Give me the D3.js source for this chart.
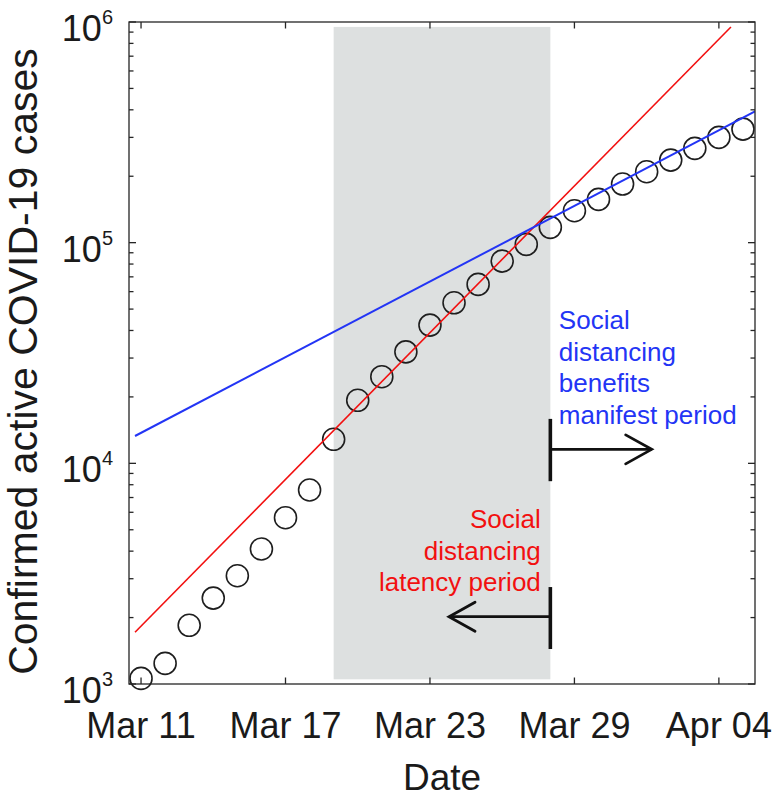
<!DOCTYPE html>
<html>
<head>
<meta charset="utf-8">
<script src="https://cdn.jsdelivr.net/npm/d3@7"></script>
<style>
  html, body { margin: 0; padding: 0; background: #fff; }
  svg { display: block; }
  text { font-family: "Liberation Sans", Arial, Helvetica, sans-serif; }
</style>
</head>
<body>
<svg id="chart" width="776" height="797"></svg>
<script>
// ---------- data ----------
const dates = ["2020-03-11","2020-03-12","2020-03-13","2020-03-14","2020-03-15","2020-03-16",
  "2020-03-17","2020-03-18","2020-03-19","2020-03-20","2020-03-21","2020-03-22","2020-03-23",
  "2020-03-24","2020-03-25","2020-03-26","2020-03-27","2020-03-28","2020-03-29","2020-03-30",
  "2020-03-31","2020-04-01","2020-04-02","2020-04-03","2020-04-04","2020-04-05"];
const cases = [1060, 1240, 1845, 2450, 3095, 4090, 5670, 7570, 12850, 19300, 24700, 32000, 42300,
  53400, 64700, 82500, 98200, 117300, 139500, 157100, 184300, 209600, 236700, 267500, 300000, 327100];

// exponential fits (endpoints)
const redFitDates = ["2020-03-10T18:00", "2020-04-04T12:00"];
const redFitValues = [1716, 949000];
const blueFitDates = ["2020-03-10T18:00", "2020-04-05T12:00"];
const blueFitValues = [13300, 394000];

// shaded latency window
const shadeDates = ["2020-03-19", "2020-03-28"];
const shadeValues = [1050, 950000];

// axis ticks
const xTickDates = ["2020-03-11","2020-03-17","2020-03-23","2020-03-29","2020-04-04"];
const xTickLabels = ["Mar 11","Mar 17","Mar 23","Mar 29","Apr 04"];
const yTickValues = [1e3, 1e4, 1e5, 1e6];
const yTickExponents = ["3","4","5","6"];
const xDomain = ["2020-03-10T12:00", "2020-04-05T12:00"];
const yDomain = [1e3, 1e6];

// annotations
const blueText = ["Social", "distancing", "benefits", "manifest period"];
const blueTextAnchor = { date: "2020-03-28T08:30", value: 40600 };
const redText = ["Social", "distancing", "latency period"];
const redTextAnchor = { date: "2020-03-27T14:30", value: 5090 };
const arrowRight = { date: "2020-03-28", barLow: 8300, barHigh: 15900, value: 11570, tip: "2020-04-01T05:00" };
const arrowLeft = { date: "2020-03-28", barLow: 1441, barHigh: 2750, value: 2018, tip: "2020-03-23T19:00" };

// ---------- drawing ----------
const parse = s => new Date(s + (s.length === 10 ? "T00:00Z" : "Z"));
const svg = d3.select("#chart");
const L = 129, R = 755, T = 22, B = 684;
const x = d3.scaleUtc().domain(xDomain.map(parse)).range([L, R]);
const y = d3.scaleLog().domain(yDomain).range([B, T]);

const axisColor = "#262626";
const BLUE = "#2335f5", RED = "#f21010";

svg.append("defs").append("clipPath").attr("id", "clip")
  .append("rect").attr("x", L).attr("y", T).attr("width", R - L).attr("height", B - T);

// shaded region
svg.append("rect")
  .attr("x", x(parse(shadeDates[0])))
  .attr("width", x(parse(shadeDates[1])) - x(parse(shadeDates[0])))
  .attr("y", y(shadeValues[1]))
  .attr("height", y(shadeValues[0]) - y(shadeValues[1]))
  .attr("fill", "#dde0e0");

// data circles
svg.append("g").selectAll("circle").data(dates).join("circle")
  .attr("cx", d => x(parse(d)))
  .attr("cy", (d, i) => y(cases[i]))
  .attr("r", 11)
  .attr("fill", "none")
  .attr("stroke", "#1e1e1e")
  .attr("stroke-width", 1.6);

// fit lines
const line = d3.line().x(d => x(d[0])).y(d => y(d[1]));
svg.append("path")
  .datum(redFitDates.map((d, i) => [parse(d), redFitValues[i]]))
  .attr("d", line).attr("fill", "none").attr("stroke", RED).attr("stroke-width", 1.6)
  .attr("clip-path", "url(#clip)");
svg.append("path")
  .datum(blueFitDates.map((d, i) => [parse(d), blueFitValues[i]]))
  .attr("d", line).attr("fill", "none").attr("stroke", BLUE).attr("stroke-width", 2)
  .attr("clip-path", "url(#clip)");

// annotation text
const lineGap = 31.5;
const bt = svg.append("text")
  .attr("font-size", 26).attr("fill", BLUE);
blueText.forEach((t, i) => bt.append("tspan").attr("x", x(parse(blueTextAnchor.date)))
  .attr("y", y(blueTextAnchor.value) + i * lineGap).text(t));
const rt = svg.append("text")
  .attr("text-anchor", "end")
  .attr("font-size", 26).attr("fill", RED);
redText.forEach((t, i) => rt.append("tspan").attr("x", x(parse(redTextAnchor.date)))
  .attr("y", y(redTextAnchor.value) + i * lineGap).text(t));

// arrows
function drawArrow(a) {
  const bx = x(parse(a.date)), tx = x(parse(a.tip)), ay = y(a.value);
  const g = svg.append("g").attr("stroke", "#111").attr("fill", "none");
  g.append("line").attr("x1", bx).attr("x2", bx)
    .attr("y1", y(a.barHigh)).attr("y2", y(a.barLow)).attr("stroke-width", 3.6);
  g.append("line").attr("x1", bx).attr("x2", tx).attr("y1", ay).attr("y2", ay).attr("stroke-width", 2.8);
  const dir = tx > bx ? -1 : 1;
  g.append("path")
    .attr("d", `M${tx + dir * 26},${ay - 14.5}L${tx},${ay}L${tx + dir * 26},${ay + 14.5}`)
    .attr("stroke-width", 2.8).attr("stroke-linecap", "round");
}
drawArrow(arrowRight);
drawArrow(arrowLeft);

// axes frame
const ax = svg.append("g").attr("stroke", axisColor).attr("stroke-width", 1.3).attr("fill", "none");
ax.append("rect").attr("x", L).attr("y", T).attr("width", R - L).attr("height", B - T);

// x ticks (bottom and top)
const xt = xTickDates.map(parse);
xt.forEach(d => {
  ax.append("line").attr("x1", x(d)).attr("x2", x(d)).attr("y1", B).attr("y2", B - 6.5);
  ax.append("line").attr("x1", x(d)).attr("x2", x(d)).attr("y1", T).attr("y2", T + 6.5);
});
// y ticks (major and minor, left and right)
const minor = [];
for (let e = 3; e < 6; e++) for (let m = 2; m <= 9; m++) minor.push(m * Math.pow(10, e));
yTickValues.forEach(v => {
  ax.append("line").attr("x1", L).attr("x2", L + 7).attr("y1", y(v)).attr("y2", y(v));
  ax.append("line").attr("x1", R).attr("x2", R - 7).attr("y1", y(v)).attr("y2", y(v));
});
minor.forEach(v => {
  ax.append("line").attr("x1", L).attr("x2", L + 4.5).attr("y1", y(v)).attr("y2", y(v));
  ax.append("line").attr("x1", R).attr("x2", R - 4.5).attr("y1", y(v)).attr("y2", y(v));
});

// x tick labels
svg.append("g").selectAll("text").data(xt).join("text")
  .attr("x", d => x(d)).attr("y", B + 54)
  .attr("text-anchor", "middle").attr("font-size", 36).attr("fill", "#1a1a1a")
  .text((d, i) => xTickLabels[i]);

// y tick labels 10^n
yTickValues.forEach((v, i) => {
  const t = svg.append("text").attr("x", L - 16).attr("y", y(v) + 19)
    .attr("text-anchor", "end").attr("font-size", 36).attr("fill", "#1a1a1a");
  t.append("tspan").text("10");
  t.append("tspan").attr("font-size", 20).attr("dy", -17).text(yTickExponents[i]);
});

// axis titles
svg.append("text").attr("x", (L + R) / 2).attr("y", 790)
  .attr("text-anchor", "middle").attr("font-size", 37).attr("fill", "#1a1a1a").text("Date");
svg.append("text").attr("transform", "translate(37,361.5) rotate(-90)")
  .attr("text-anchor", "middle").attr("font-size", 41).attr("fill", "#1a1a1a")
  .text("Confirmed active COVID-19 cases");
</script>
</body>
</html>
